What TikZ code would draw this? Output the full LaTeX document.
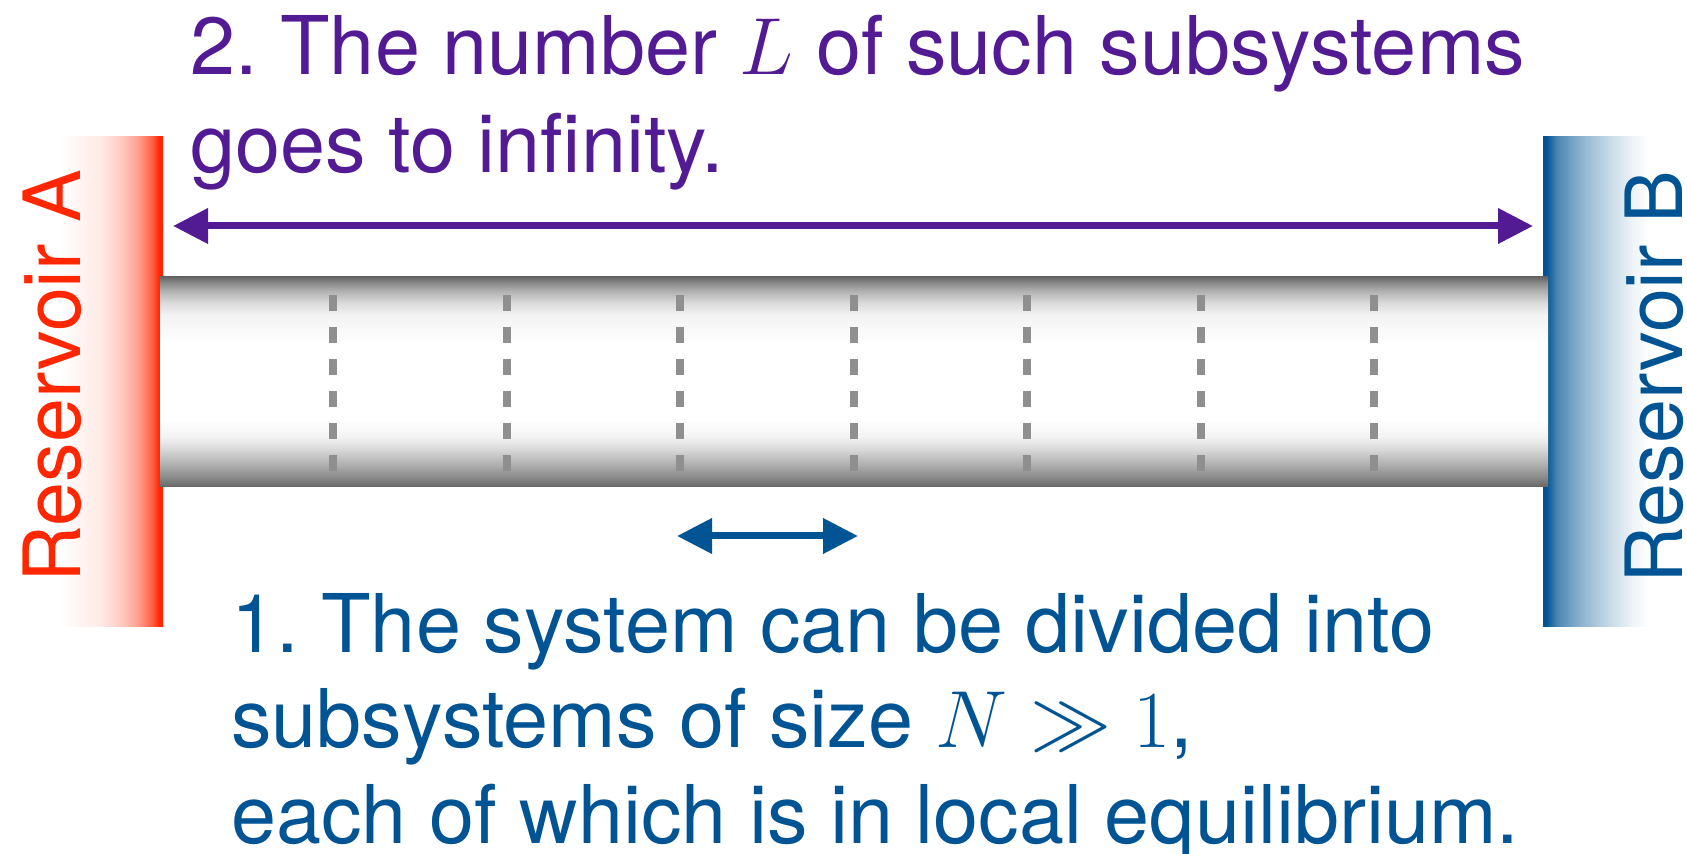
\RequirePackage{fix-cm}
\documentclass[tikz,border=0pt]{standalone}
\usepackage{amsmath,amssymb}
\usepackage[no-math]{fontspec}
\setmainfont{TeX Gyre Heros}
\usepackage{xcolor}
\usepackage{tikz}
\usetikzlibrary{
  arrows.meta,
  positioning,
  calc
}
\definecolor{resA}{HTML}{FF2600}
\definecolor{resB}{HTML}{005493}
\definecolor{claim}{HTML}{531B93}
\definecolor{tubeedge}{HTML}{666666}
\definecolor{cutgrey}{HTML}{8F8F8F}

\pgfdeclarehorizontalshading{resAshade}{100bp}{color(0bp)=(white); color(25bp)=(white);
  color(45bp)=(resA!10); color(55bp)=(resA!25); color(63bp)=(resA!45);
  color(70bp)=(resA!75); color(73bp)=(resA); color(100bp)=(resA)}
\pgfdeclarehorizontalshading{resBshade}{100bp}{color(0bp)=(resB); color(26bp)=(resB);
  color(30bp)=(resB!70); color(38bp)=(resB!45); color(48bp)=(resB!22);
  color(56bp)=(resB!7); color(62bp)=(white); color(100bp)=(white)}
\pgfdeclareverticalshading{tubeshade}{100bp}{color(0bp)=(tubeedge); color(25bp)=(tubeedge);
  color(27.5bp)=(tubeedge!75); color(30bp)=(tubeedge!55); color(34bp)=(tubeedge!25);
  color(37bp)=(tubeedge!8); color(41bp)=(white); color(59bp)=(white);
  color(66bp)=(tubeedge!8); color(69bp)=(tubeedge!25); color(72bp)=(tubeedge!55);
  color(73.5bp)=(tubeedge!75); color(75bp)=(tubeedge); color(100bp)=(tubeedge)}

\tikzset{
  reservoir/.style={
    rectangle, shade, shading=#1, inner sep=0pt, minimum height=245pt
  },
  tubebody/.style={
    rectangle, shade, shading=tubeshade, inner sep=0pt,
    minimum width=694pt, minimum height=105pt
  },
  cut/.style={
    line width=4pt, color=cutgrey, dash pattern=on 8pt off 8pt
  },
  span/.style={
    {Triangle[length=17.5pt,width=17pt]}-{Triangle[length=17.5pt,width=17pt]},
    line width=3.5pt, color=#1
  },
  reslabel/.style={
    font=\fontsize{39.5}{48}\selectfont, color=#1, inner sep=0pt,
    rotate=90, anchor=base west
  },
  claimtext/.style={
    font=\fontsize{40.5}{#1}\selectfont\frenchspacing, align=left, inner sep=0pt,
    anchor=base west
  },
}

\begin{document}
\begin{tikzpicture}[x=0.5pt, y=-0.5pt]
  \useasboundingbox (0,0) rectangle (1687,854);

  %% ── Reservoirs ────────────────────────────────────────────────────────────
  \node[reservoir=resAshade, minimum width=51.5pt] (resA) at (111.5,382) {};
  \node[reservoir=resBshade, minimum width=72pt]   (resB) at (1615,382)  {};

  \node[reslabel=resA] (labA) at (80,583)   {Reservoir A};
  \node[reslabel=resB] (labB) at (1682,584) {Reservoir B};

  %% ── Chain ─────────────────────────────────────────────────────────────────
  \node[tubebody] (tube) at (854,382) {};
  \foreach \k in {1,...,7}
    \draw[cut] ($(tube.west)+(\k*173.5,-87)$) -- ++(0,176);

  %% ── Arrows ────────────────────────────────────────────────────────────────
  \coordinate (Lstart) at (173,226);
  \coordinate (Lend)   at (1533,226);
  \coordinate (Nstart) at (677,536);
  \coordinate (Nend)   at (858,536);
  \draw[span=claim] (Lstart) -- (Lend);
  \draw[span=resB]  (Nstart) -- (Nend);

  %% ── Statements (anchored on the last baseline) ───────────────────────────
  \node[claimtext=49, color=claim] (claimL) at (190,173)
    {2. The number $L$ of such subsystems\\goes to infinity.};
  \node[claimtext=47.75, color=resB] (claimN) at (231,843)
    {1. The system can be divided into\\subsystems of size $N \gg 1$,\\each of which is in local equilibrium.};

\end{tikzpicture}
\end{document}
